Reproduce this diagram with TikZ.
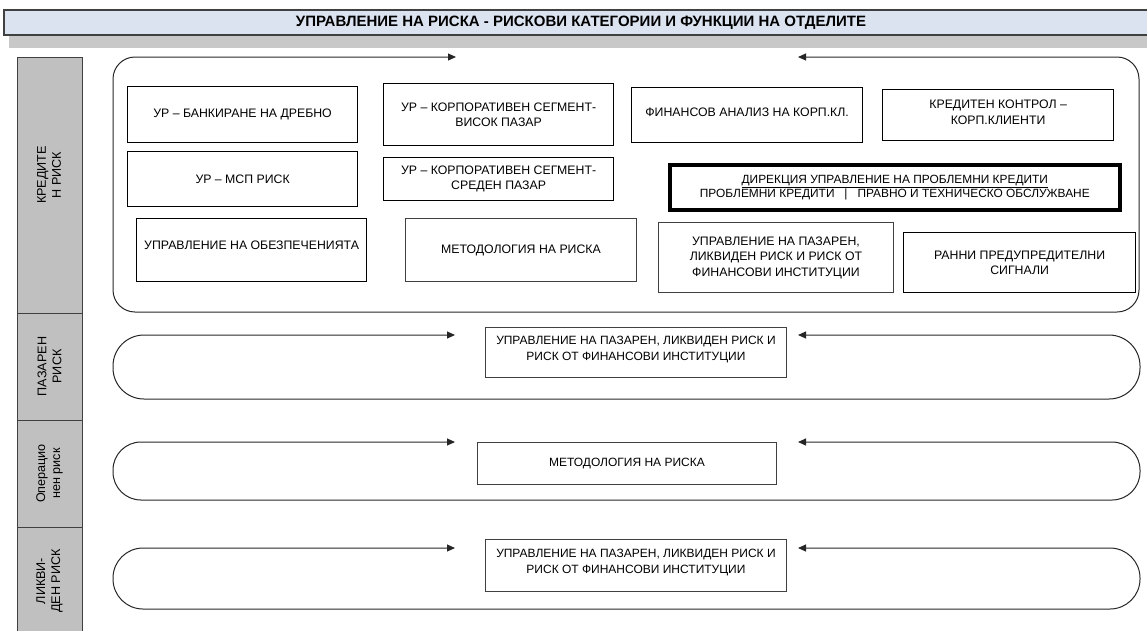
\documentclass[tikz,border=0pt]{standalone}
\usepackage{fontspec}
\setmainfont{Liberation Sans}
\usetikzlibrary{arrows.meta}
\definecolor{bannerfill}{HTML}{DCE3F0}
\definecolor{shadowgray}{HTML}{C8C8C8}
\definecolor{colgray}{HTML}{C0C0C0}
\definecolor{edgegray}{HTML}{404040}
\tikzset{
  boxA/.style={draw=black, line width=1.2pt, fill=white, rectangle, inner sep=2pt, align=center,
    font=\fontsize{12.3}{15.5}\selectfont, anchor=north west},
  boxB/.style={boxA, draw=edgegray, line width=0.9pt},
  boxL/.style={boxB, font=\fontsize{12}{16}\selectfont},
  boxT/.style={boxA, line width=3.6pt, font=\fontsize{11.9}{14}\selectfont},
  lanepath/.style={draw=black!85, line width=1pt,
    {Triangle[length=8pt,width=7pt]}-{Triangle[length=8pt,width=7pt]}},
  collabel/.style={rotate=90, align=center, font=\fontsize{12.6}{15}\selectfont},
}
\begin{document}
\begin{tikzpicture}[x=1pt,y=-1pt]
\useasboundingbox (0,0) rectangle (1147,630);
% banner
\fill[shadowgray] (9,35) rectangle (1152,48);
\draw[draw=edgegray, line width=1.6pt, fill=bannerfill] (4,10) rectangle (1152,35);
\node[font=\fontsize{15}{17}\selectfont\bfseries] (title) at (581,22.5)
  {УПРАВЛЕНИЕ НА РИСКА - РИСКОВИ КАТЕГОРИИ И ФУНКЦИИ НА ОТДЕЛИТЕ};
% left column
\draw[fill=colgray, draw=edgegray, line width=1pt] (17,57) rectangle (82,636);
\draw[edgegray, line width=1pt] (17,313) -- (82,313) (17,420) -- (82,420) (17,527) -- (82,527);
\node[collabel] (lc1) at (49,175) {КРЕДИТЕ\\Н РИСК};
\node[collabel] (lc2) at (49.5,366.5) {ПАЗАРЕН\\РИСК};
\node[collabel] (lc3) at (49.5,473.5) {Операцио\\нен риск};
\node[collabel] (lc4) at (49.5,581) {ЛИКВИ-\\ДЕН РИСК};
% credit container
\coordinate (c1r) at (456,57);
\coordinate (c1l) at (798,57);
\draw[lanepath, rounded corners=22] (c1r) -- (113,57) -- (113,312) -- (1139,312) -- (1139,57) -- (c1l);
% credit boxes
\node[boxA, minimum width=230pt, minimum height=56pt] (b1) at (127,86) {УР – БАНКИРАНЕ НА ДРЕБНО};
\node[boxA, minimum width=230pt, minimum height=55pt] (b2) at (127,151) {УР – МСП РИСК};
\node[boxA, minimum width=230pt, minimum height=63pt, text depth=9pt] (b3) at (136,218) {УПРАВЛЕНИЕ НА ОБЕЗПЕЧЕНИЯТА};
\node[boxA, minimum width=230pt, minimum height=62pt] (b4) at (383,83) {УР – КОРПОРАТИВЕН СЕГМЕНТ-\\ВИСОК ПАЗАР};
\node[boxA, minimum width=230pt, minimum height=43pt] (b5) at (383,157) {УР – КОРПОРАТИВЕН СЕГМЕНТ-\\СРЕДЕН ПАЗАР};
\node[boxB, minimum width=231pt, minimum height=63pt] (b6) at (405,218) {МЕТОДОЛОГИЯ НА РИСКА};
\node[boxA, minimum width=231pt, minimum height=55pt, text depth=5pt] (b7) at (631,87) {ФИНАНСОВ АНАЛИЗ НА КОРП.КЛ.};
\node[boxA, minimum width=231pt, minimum height=51pt, text depth=5pt] (b8) at (882,88.5) {КРЕДИТЕН КОНТРОЛ –\\КОРП.КЛИЕНТИ};
\node[boxT, minimum width=450pt, minimum height=45pt] (b9) at (668,163)
  {\underline{ДИРЕКЦИЯ УПРАВЛЕНИЕ НА ПРОБЛЕМНИ КРЕДИТИ}\\ПРОБЛЕМНИ КРЕДИТИ~~~|~~~ПРАВНО И ТЕХНИЧЕСКО ОБСЛУЖВАНЕ};
\node[boxB, minimum width=235pt, minimum height=70pt] (b10) at (658,222)
  {УПРАВЛЕНИЕ НА ПАЗАРЕН,\\ЛИКВИДЕН РИСК И РИСК ОТ\\ФИНАНСОВИ ИНСТИТУЦИИ};
\node[boxA, minimum width=232pt, minimum height=60pt] (b11) at (903,232) {РАННИ ПРЕДУПРЕДИТЕЛНИ\\СИГНАЛИ};
% market risk lane
\coordinate (c2r) at (455,335);
\coordinate (c2l) at (798,335);
\draw[lanepath, rounded corners=31] (c2r) -- (113,335) -- (113,399) -- (1140,399) -- (1140,335) -- (c2l);
\node[boxL, minimum width=301pt, minimum height=50pt, text depth=8pt] (m1) at (485,327)
  {УПРАВЛЕНИЕ НА ПАЗАРЕН, ЛИКВИДЕН РИСК И\\РИСК ОТ ФИНАНСОВИ ИНСТИТУЦИИ};
% operational risk lane
\coordinate (c3r) at (455,442);
\coordinate (c3l) at (798,442);
\draw[lanepath, rounded corners=28] (c3r) -- (113,442) -- (113,500) -- (1140,500) -- (1140,442) -- (c3l);
\node[boxL, minimum width=299pt, minimum height=42pt] (o1) at (477,442) {МЕТОДОЛОГИЯ НА РИСКА};
% liquidity risk lane
\coordinate (c4r) at (455,548);
\coordinate (c4l) at (798,548);
\draw[lanepath, rounded corners=30] (c4r) -- (113,548) -- (113,609) -- (1140,609) -- (1140,548) -- (c4l);
\node[boxL, minimum width=301pt, minimum height=52pt, text depth=8pt] (l1) at (485,539)
  {УПРАВЛЕНИЕ НА ПАЗАРЕН, ЛИКВИДЕН РИСК И\\РИСК ОТ ФИНАНСОВИ ИНСТИТУЦИИ};
\end{tikzpicture}
\end{document}
